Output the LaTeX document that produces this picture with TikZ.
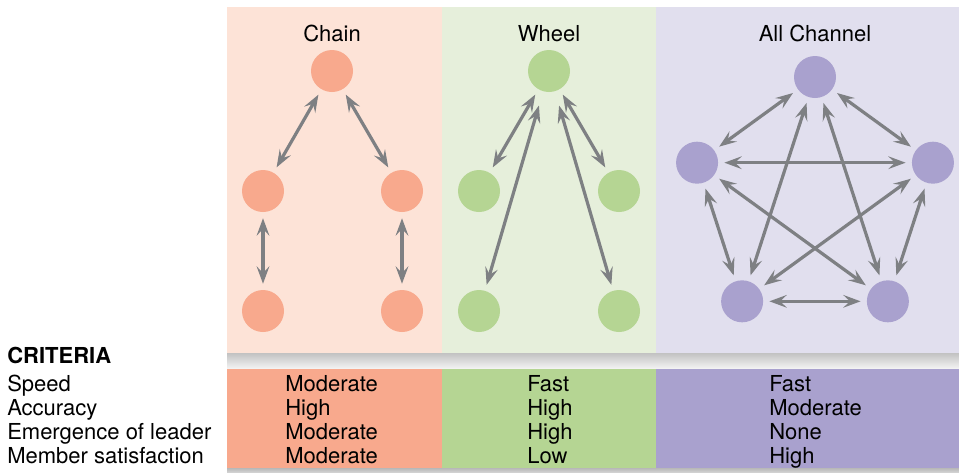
\documentclass[tikz,border=0pt]{standalone}
\usepackage{fontspec}
\setmainfont{TeX Gyre Heros}
\usetikzlibrary{arrows.meta, calc}
\definecolor{chainfill}{HTML}{FDE3D7}
\definecolor{chaindot}{HTML}{F8A98D}
\definecolor{wheelfill}{HTML}{E6EFDB}
\definecolor{wheeldot}{HTML}{B5D593}
\definecolor{allfill}{HTML}{E1DFEE}
\definecolor{alldot}{HTML}{A9A1CE}
\definecolor{arrowgray}{HTML}{7E8083}
\newcommand{\labelfont}{\fontsize{16.5}{18}\selectfont}
\tikzset{
  member/.style={circle, minimum size=31.5pt, inner sep=0pt},
  chainmember/.style={member, fill=chaindot},
  wheelmember/.style={member, fill=wheeldot},
  allmember/.style={member, fill=alldot},
  link/.style={
    {Stealth[length=13pt,width=9.5pt,inset=5pt]}-{Stealth[length=13pt,width=9.5pt,inset=5pt]},
    line width=2.4pt, draw=arrowgray, shorten >=4.5pt, shorten <=4.5pt
  },
  longlink/.style={link, shorten <=11pt},
  title/.style={font=\labelfont, anchor=base, inner sep=0pt},
  crit/.style={font=\labelfont, anchor=base west, inner sep=0pt}
}

\begin{document}
\begin{tikzpicture}[x=0.75pt, y=-0.75pt]

  \useasboundingbox (0,0) rectangle (959,472);

  % panels
  \fill[chainfill] (227,7) rectangle (442,353);
  \fill[wheelfill] (442,7) rectangle (656,353);
  \fill[allfill] (656,7) rectangle (959,353);
  \shade[top color=black!24, bottom color=black!4] (227,353) rectangle (959,369);
  \fill[chaindot] (227,369) rectangle (442,468);
  \fill[wheeldot] (442,369) rectangle (656,468);
  \fill[alldot] (656,369) rectangle (959,468);
  \shade[top color=black!28, bottom color=black!18] (227,468) rectangle (959,472);

  \node[title] (chaintitle) at (332,41) {Chain};
  \node[title] (wheeltitle) at (549,41) {Wheel};
  \node[title] (alltitle) at (815,41) {All Channel};

  % chain
  \node[chainmember] (c1) at (332,71) {};
  \node[chainmember] (c2) at (263,191) {};
  \node[chainmember] (c3) at (402,191) {};
  \node[chainmember] (c4) at (263,311) {};
  \node[chainmember] (c5) at (402,311) {};
  \draw[link] (c1) -- (c2);
  \draw[link] (c1) -- (c3);
  \draw[link] (c2) -- (c4);
  \draw[link] (c3) -- (c5);

  % wheel
  \node[wheelmember] (w1) at (549,71) {};
  \node[wheelmember] (w2) at (479,191) {};
  \node[wheelmember] (w3) at (619,191) {};
  \node[wheelmember] (w4) at (479,311) {};
  \node[wheelmember] (w5) at (619,311) {};
  \draw[link] (w1) -- (w2);
  \draw[link] (w1) -- (w3);
  \draw[longlink] (w1) -- (w4);
  \draw[longlink] (w1) -- (w5);

  % all channel
  \foreach \k/\ang in {1/90, 2/162, 3/234, 4/306, 5/18}
    \node[allmember] (a\k) at ($(815,201)+(-\ang:124)$) {};
  \foreach \p/\q in {1/2, 1/3, 1/4, 1/5, 2/3, 2/4, 2/5, 3/4, 3/5, 4/5}
    \draw[link] (a\p) -- (a\q);

  % criteria table
  \node[crit, font=\labelfont\bfseries] (criteria) at (7,363) {CRITERIA};
  \foreach \crit [count=\i] in {Speed, Accuracy, Emergence of leader, Member satisfaction}
    \node[crit] (crit\i) at (7,367+24*\i) {\crit};
  \foreach \cv/\wv/\av [count=\i] in {Moderate/Fast/Fast, High/High/Moderate, Moderate/High/None, Moderate/Low/High} {
    \node[crit] (chainval\i) at (285,367+24*\i) {\cv};
    \node[crit] (wheelval\i) at (527,367+24*\i) {\wv};
    \node[crit] (allval\i) at (769,367+24*\i) {\av};
  }

\end{tikzpicture}
\end{document}
